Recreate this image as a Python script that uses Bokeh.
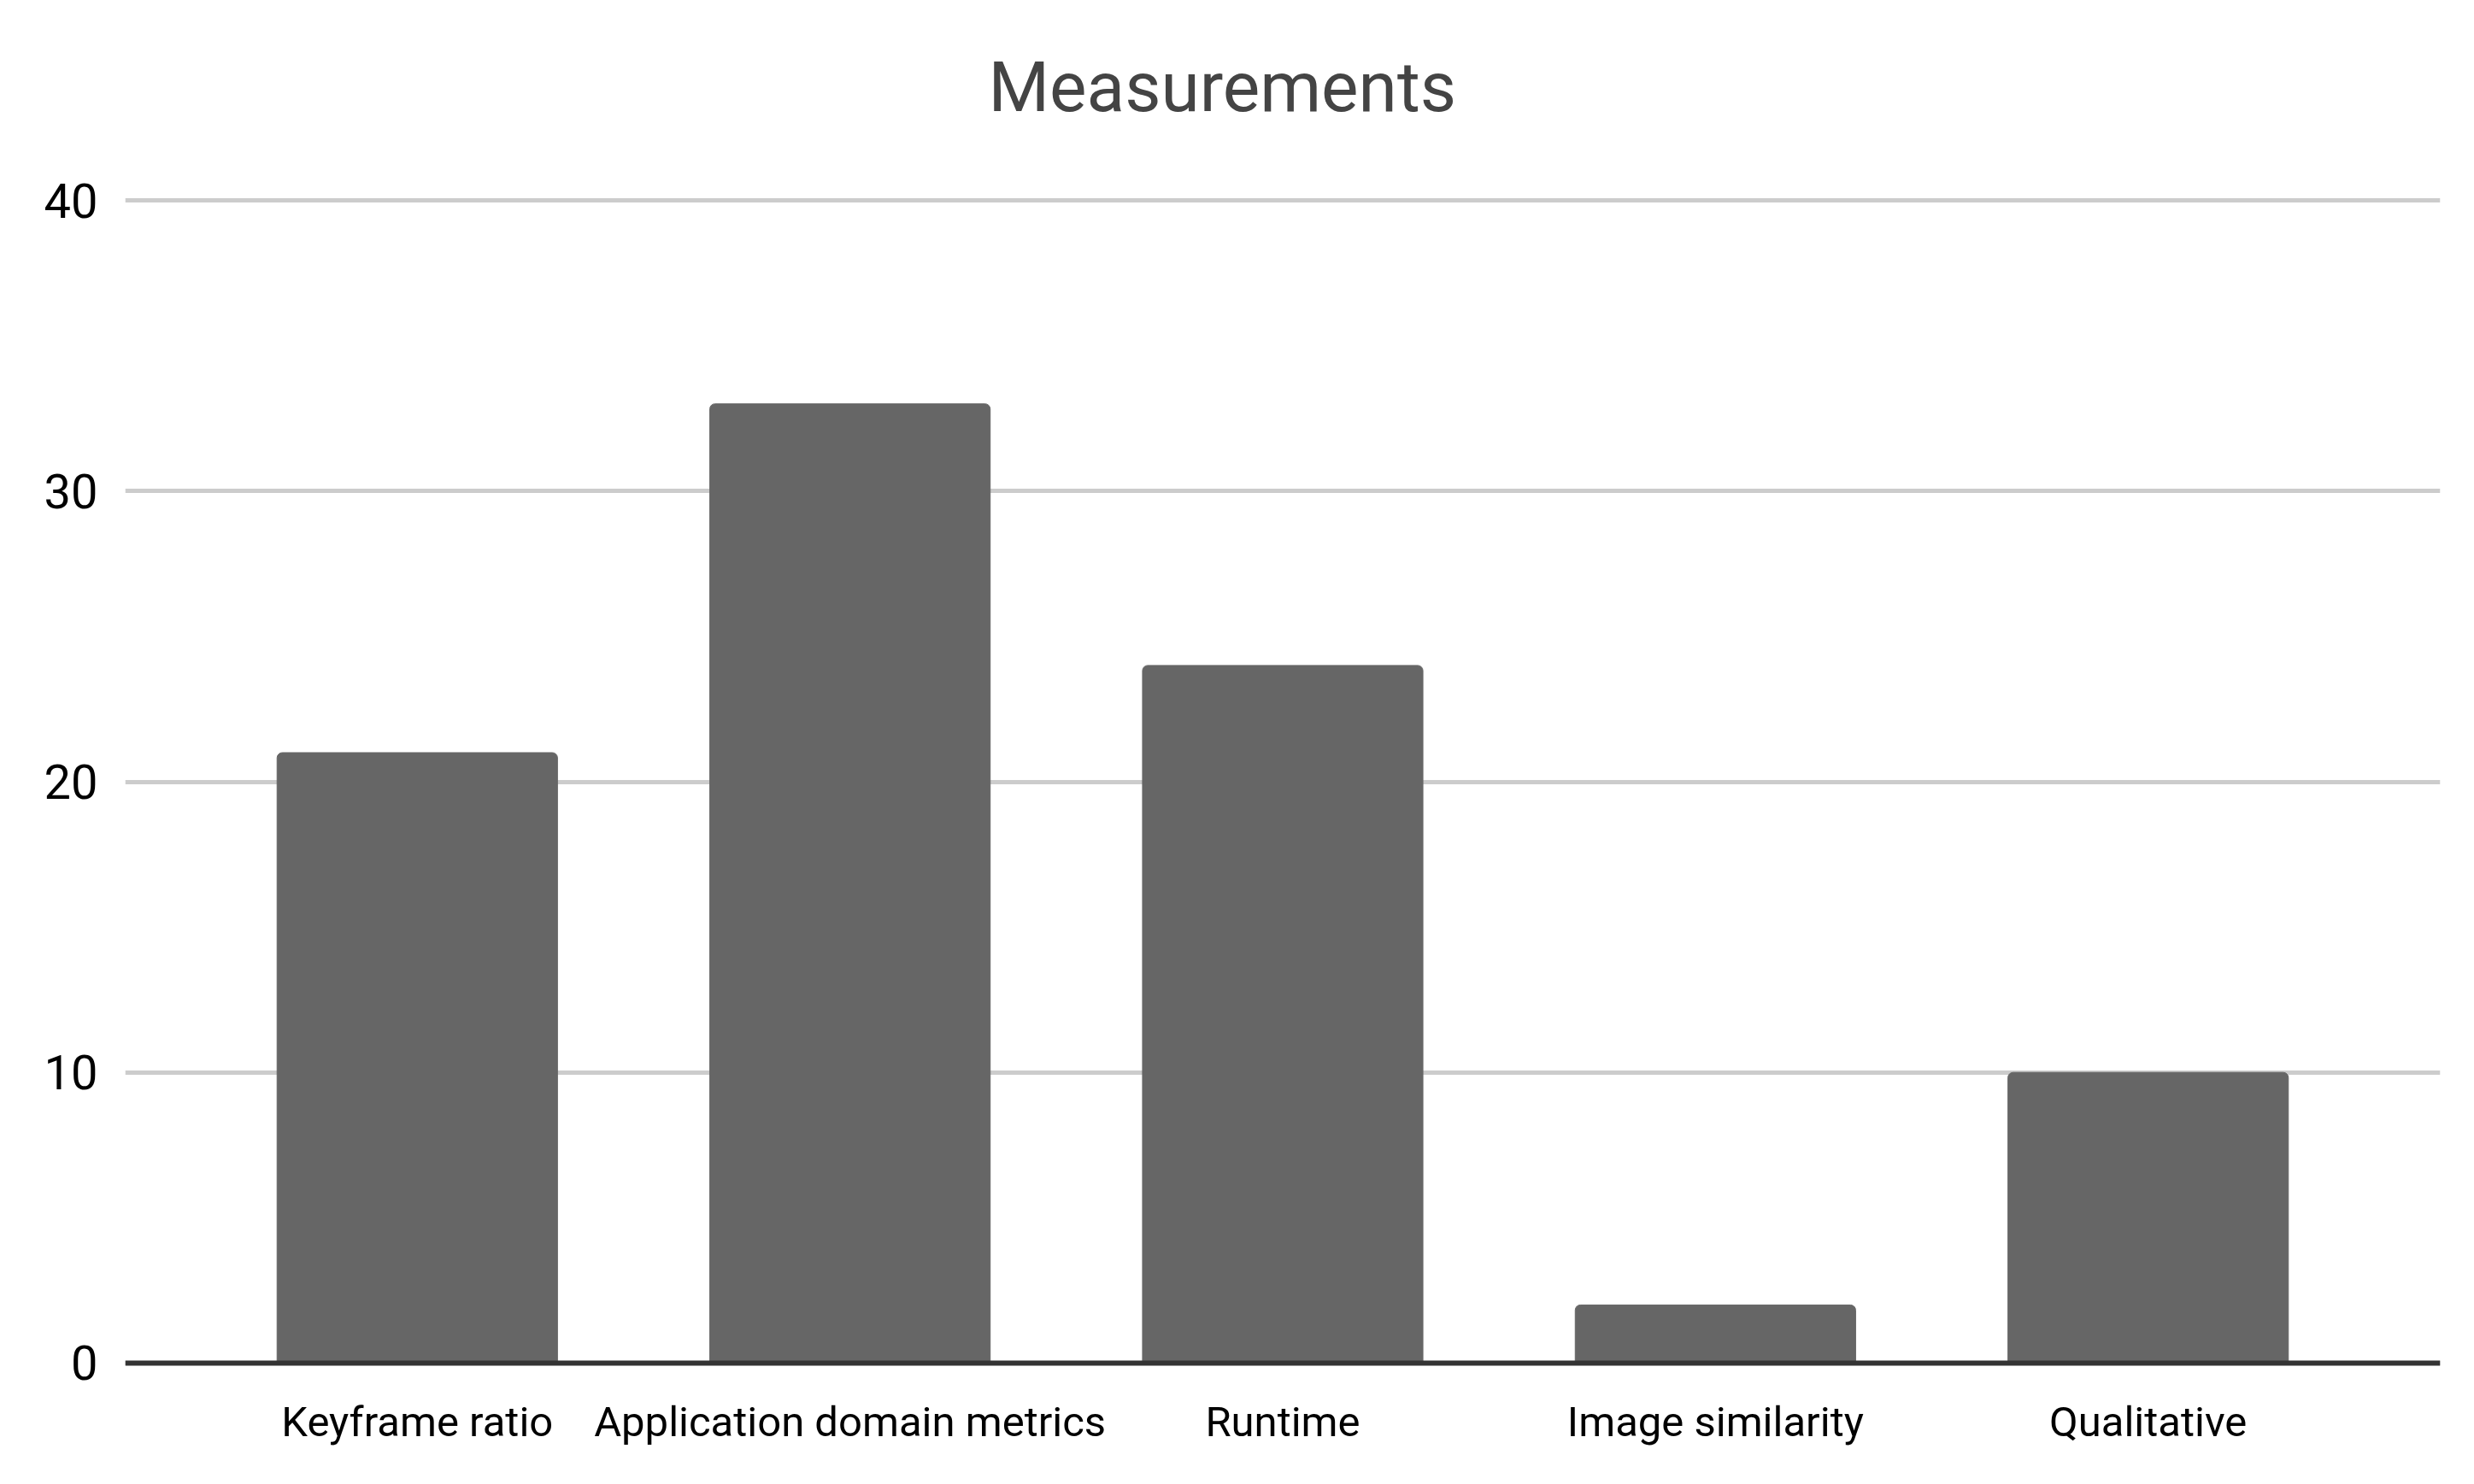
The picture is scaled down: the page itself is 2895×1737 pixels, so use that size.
from bokeh.plotting import figure
from bokeh.models import FactorRange, Range1d, FixedTicker, Span, Title
from bokeh.embed import file_html
from bokeh.resources import INLINE

categories = ["Keyframe ratio", "Application domain metrics", "Runtime", "Image similarity", "Qualitative"]
counts = [21, 33, 24, 2, 10]
y_ticks = [0, 10, 20, 30, 40]
chart_title = "Measurements"

FONT = "Roboto, 'Liberation Sans', sans-serif"

p = figure(
    width=2879, height=1721,
    x_range=FactorRange(factors=categories, range_padding=0.175, range_padding_units="absolute"),
    y_range=Range1d(-0.5, 41),
    output_backend="svg", toolbar_location=None,
    min_border_left=146, min_border_right=24, min_border_top=199, min_border_bottom=109,
)
p.title = None
t = Title(text=chart_title, align="left", offset=1010, standoff=102, vertical_align="bottom",
          text_font=FONT, text_font_size="82px", text_font_style="normal", text_color="#444444")
p.add_layout(t, "above")

p.vbar(x=categories, top=counts, bottom=0, width=0.648, color="#666666",
       border_radius=(6, 6, 0, 0))

p.add_layout(Span(location=0, dimension="width", line_color="#333333", line_width=6, level="overlay"))

p.outline_line_color = None
p.xgrid.grid_line_color = None
p.ygrid.grid_line_color = "#cccccc"
p.ygrid.grid_line_width = 5
p.ygrid.level = "underlay"
p.yaxis.ticker = FixedTicker(ticks=y_ticks)

for ax in (p.xaxis[0], p.yaxis[0]):
    ax.axis_line_color = None
    ax.major_tick_line_color = None
    ax.minor_tick_line_color = None
    ax.major_tick_out = 0
    ax.major_tick_in = 0
    ax.major_label_text_font = FONT
    ax.major_label_text_color = "#000000"

p.xaxis.major_label_text_font_size = "49px"
p.xaxis.major_label_standoff = 23
p.yaxis.major_label_text_font_size = "56px"
p.yaxis.major_label_standoff = 32

open("out.html", "w").write(file_html(p, INLINE))
